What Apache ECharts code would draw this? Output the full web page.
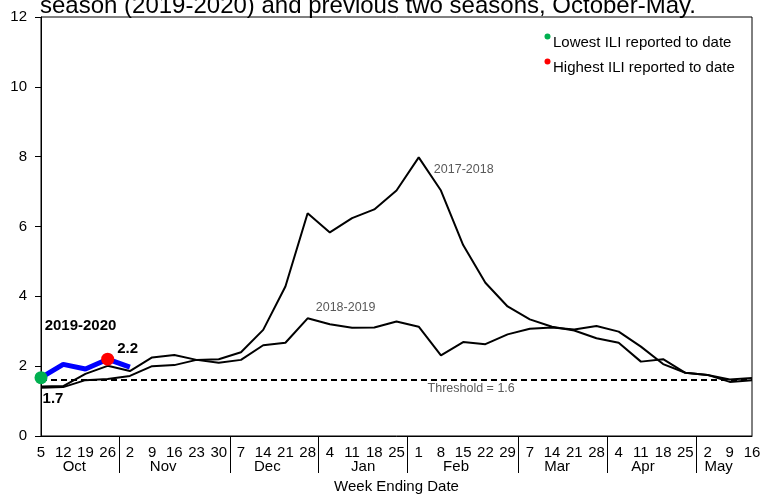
<!DOCTYPE html>
<html>
<head>
<meta charset="utf-8">
<script src="https://cdn.jsdelivr.net/npm/echarts@6/dist/echarts.min.js"></script>
<style>
  html, body { margin: 0; padding: 0; background: #fff; }
  #chart { width: 773px; height: 496px; }
</style>
</head>
<body>
<div id="chart"></div>
<script>
// week ending dates, Oct 5 .. May 16
const weekDays = ['5', '12', '19', '26', '2', '9', '16', '23', '30', '7', '14', '21', '28',
  '4', '11', '18', '25', '1', '8', '15', '22', '29', '7', '14', '21', '28',
  '4', '11', '18', '25', '2', '9', '16'];
const months = ['Oct', 'Nov', 'Dec', 'Jan', 'Feb', 'Mar', 'Apr', 'May'];
const weeksPerMonth = [4, 5, 4, 4, 5, 4, 4, 3];

const season1718 = [1.38, 1.40, 1.60, 1.63, 1.72, 2.00, 2.03, 2.18, 2.20, 2.40, 3.04, 4.28, 6.38,
  5.83, 6.24, 6.49, 7.03, 7.98, 7.03, 5.47, 4.39, 3.71, 3.34, 3.13, 3.02, 2.80,
  2.67, 2.13, 2.20, 1.81, 1.75, 1.55, 1.60];
const season1819 = [1.42, 1.43, 1.78, 2.01, 1.86, 2.25, 2.32, 2.18, 2.10, 2.18, 2.60, 2.67, 3.37,
  3.20, 3.10, 3.11, 3.28, 3.13, 2.31, 2.69, 2.63, 2.91, 3.07, 3.11, 3.05, 3.15,
  2.99, 2.56, 2.06, 1.81, 1.75, 1.62, 1.66];
const season1920 = [1.67, 2.05, 1.92, 2.20, 1.97];
const threshold = 1.6;

const FONT = '"Liberation Sans", Arial, sans-serif';
const GRAY = '#595959';
const FS = 15;

// second axis: one band per gap between weekly points, used for month names + separators
const gaps = weekDays.slice(1).map((d, i) => String(i));
const separators = [];
const monthAt = {};
let start = 0;
weeksPerMonth.forEach((n, m) => {
  monthAt[start + Math.floor((n - 2) / 2)] = m;
  start += n;
  if (start < weekDays.length) separators.push(start - 1);
});
// small horizontal nudges for month names (px), as in the original
const monthNudge = [0, 0, -7, 0, 4, -6, -9, 0];
const monthRich = {};
monthNudge.forEach((s, m) => {
  monthRich['m' + m] = {
    fontSize: FS, fontFamily: FONT, color: '#000',
    padding: s > 0 ? [0, 0, 0, 2 * s] : [0, -2 * s, 0, 0]
  };
});

const lo = season1920.indexOf(Math.min(...season1920));
const hi = season1920.indexOf(Math.max(...season1920));

const boldLabel = { show: true, position: 'inside', fontSize: FS, fontWeight: 'bold', fontFamily: FONT, color: '#000' };
const grayLabel = { show: true, position: 'inside', fontSize: 12.5, fontFamily: FONT, color: GRAY };

const currentData = season1920.map((v, i) => {
  if (i === lo) {
    return { value: v, symbolSize: 13, itemStyle: { color: '#00b050' },
      label: Object.assign({}, boldLabel, { formatter: v.toFixed(1), offset: [12, 21] }) };
  }
  if (i === hi) {
    return { value: v, symbolSize: 13, itemStyle: { color: '#ff0000' },
      label: Object.assign({}, boldLabel, { formatter: v.toFixed(1), offset: [20, -10] }) };
  }
  return v;
});

function note(idx, value, text, offset, label) {
  return {
    coord: [idx, value], symbol: 'circle', symbolSize: 1,
    itemStyle: { color: 'rgba(0,0,0,0)' },
    label: Object.assign({}, label, { formatter: text, offset: offset })
  };
}

const chart = echarts.init(document.getElementById('chart'));

const option = {
  animation: false,
  title: {
    text: 'season (2019-2020) and previous two seasons, October-May.',
    left: 35, top: -11,
    textStyle: { fontSize: 24, fontWeight: 'normal', fontFamily: FONT, color: '#000' }
  },
  grid: {
    left: 41, right: 21, top: 17, bottom: 60, outerBoundsMode: 'none',
    show: true, borderColor: '#000', borderWidth: 1
  },
  xAxis: [
    {
      type: 'category', data: weekDays, boundaryGap: false,
      axisLine: { lineStyle: { color: '#000', width: 1 } },
      axisTick: { show: false },
      axisLabel: { interval: 0, margin: 9, fontSize: FS, fontFamily: FONT, color: '#000' },
      splitLine: { show: false }
    },
    {
      type: 'category', data: gaps, boundaryGap: true, position: 'bottom',
      axisLine: { show: false },
      axisTick: {
        show: true, alignWithLabel: true, length: 37,
        interval: (i) => separators.includes(i),
        lineStyle: { color: '#000', width: 1 }
      },
      axisLabel: {
        interval: 0, margin: 23,
        formatter: (val, i) => (monthAt[i] !== undefined ? '{m' + monthAt[i] + '|' + months[monthAt[i]] + '}' : ''),
        rich: monthRich
      },
      name: 'Week Ending Date', nameLocation: 'middle', nameGap: 42,
      nameTextStyle: { fontSize: FS, fontFamily: FONT, color: '#000' }
    }
  ],
  yAxis: {
    type: 'value', min: 0, max: 12, interval: 2,
    axisLine: { show: true, lineStyle: { color: '#000', width: 1 } },
    axisTick: { show: true, length: 6, lineStyle: { color: '#000' } },
    axisLabel: { margin: 14, fontSize: FS, fontFamily: FONT, color: '#000' },
    splitLine: { show: false }
  },
  series: [
    {
      name: '2017-2018', type: 'line', data: season1718, symbol: 'none',
      lineStyle: { color: '#000', width: 2 }, z: 2,
      markLine: {
        silent: true, symbol: ['none', 'none'],
        lineStyle: { type: [6, 4], color: '#000', width: 2 },
        label: { show: false },
        data: [{ yAxis: threshold }]
      },
      markPoint: {
        silent: true,
        data: [
          note(17, season1718[17], '2017-2018', [45, 12], grayLabel),
          note(19, threshold, 'Threshold = ' + threshold, [8, 8], grayLabel)
        ]
      }
    },
    {
      name: '2018-2019', type: 'line', data: season1819, symbol: 'none',
      lineStyle: { color: '#000', width: 2 }, z: 2,
      markPoint: {
        silent: true,
        data: [note(12, season1819[12], '2018-2019', [38, -11], grayLabel)]
      }
    },
    {
      name: '2019-2020', type: 'line', data: currentData,
      symbol: 'circle', symbolSize: 0, showSymbol: true,
      lineStyle: { color: '#0000ff', width: 5 }, z: 5,
      markPoint: {
        silent: true,
        data: [note(0, season1920[0], '2019-2020', [39.5, -52], boldLabel)]
      }
    }
  ],
  graphic: [
    { type: 'circle', shape: { cx: 547.5, cy: 36.5, r: 3 }, style: { fill: '#00b050' } },
    { type: 'text', x: 553, y: 43, style: { text: 'Lowest ILI reported to date', font: FS + 'px ' + FONT, fill: '#000', verticalAlign: 'middle' } },
    { type: 'circle', shape: { cx: 547.5, cy: 61.5, r: 3 }, style: { fill: '#ff0000' } },
    { type: 'text', x: 553, y: 67.5, style: { text: 'Highest ILI reported to date', font: FS + 'px ' + FONT, fill: '#000', verticalAlign: 'middle' } }
  ]
};

chart.setOption(option);
</script>
</body>
</html>
